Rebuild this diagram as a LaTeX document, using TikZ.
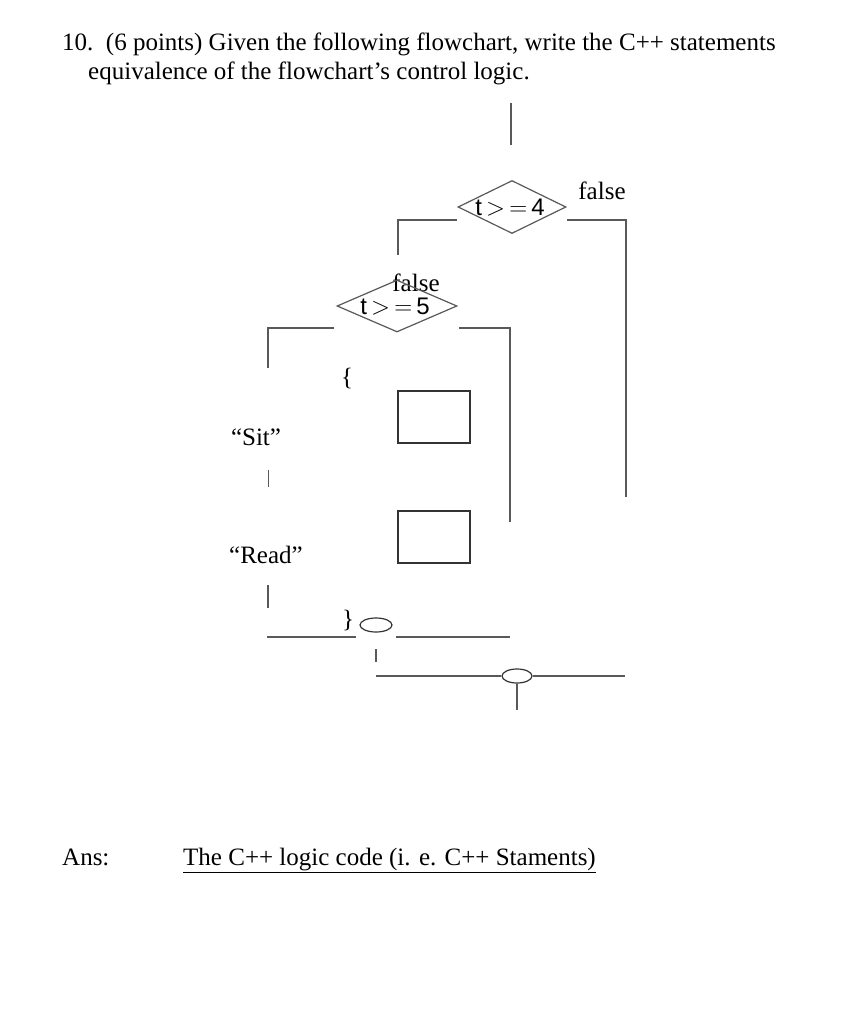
\documentclass[tikz,border=0pt]{standalone}
\usepackage{fontspec}
\setmainfont{Liberation Serif}
\newfontfamily\dfont{Liberation Sans}
\usetikzlibrary{shapes.geometric}
\begin{document}
\begin{tikzpicture}[x=1pt,y=-1pt,
  ln/.style={draw=black!65,line width=1.2pt},
  dia/.style={ln,diamond,aspect=2.05,inner sep=0pt},
  bx/.style={ln,draw=black!80,minimum width=72pt,minimum height=52pt,inner sep=0pt},
  ov/.style={ln,draw=black!80,ellipse,inner sep=0pt},
  tx/.style={font=\fontsize{25}{29}\selectfont,inner sep=0pt},
  dt/.style={font=\dfont\fontsize{24}{27}\selectfont,inner sep=0pt}]
\useasboundingbox[fill=white] (0,0) rectangle (844,1024);
\node[tx,anchor=base west] (t1) at (62,51) {10.\ \ (6 points) Given the following flowchart, write the C++ statements};
\node[tx,anchor=base west] (t2) at (88,80) {equivalence of the flowchart’s control logic.};
\draw[ln] (511,103) -- (511,145);
\node[dia,minimum width=108pt,minimum height=53pt] (d1) at (512,207) {};
\node[dt] (d1t) at (510,208) {t$\,>\,=\,$4};
\node[tx] (f1) at (602,191) {false};
\draw[ln] (457,220) -- (398,220) -- (398,255);
\draw[ln] (567,220) -- (626,220) -- (626,497);
\node[tx] (f2) at (416,283) {false};
\node[dia,minimum width=120pt,minimum height=52pt] (d2) at (397,306) {};
\node[dt] (d2t) at (395,307) {t$\,>\,=\,$5};
\draw[ln] (334,328) -- (268,328) -- (268,368);
\draw[ln] (459,328) -- (510,328) -- (510,522);
\node[tx] (lb) at (347,378) {\{};
\node[bx] (b1) at (434,417) {};
\node[bx] (b2) at (434,537) {};
\node[tx] (sit) at (256,437) {“Sit”};
\draw[ln,line width=1pt] (268,470) -- (268,487);
\node[tx] (rd) at (266,555) {“Read”};
\draw[ln] (268,585) -- (268,608);
\node[tx] (rb) at (348,620) {\}};
\node[ov,minimum width=32pt,minimum height=14pt] (o1) at (376,625) {};
\draw[ln] (267,637) -- (356,637);
\draw[ln] (396,637) -- (510,637);
\draw[ln] (376,649) -- (376,662);
\node[ov,minimum width=30pt,minimum height=14pt] (o2) at (517,676) {};
\draw[ln] (376,676) -- (o2.west);
\draw[ln] (o2.east) -- (625,676);
\draw[ln] (o2.south) -- (517,710);
\node[tx,anchor=base west] (ans) at (62,865) {Ans:};
\node[tx,anchor=base west] (code) at (183,865) {\underline{The C++ logic code (i. e. C++ Staments)}};
\end{tikzpicture}
\end{document}
